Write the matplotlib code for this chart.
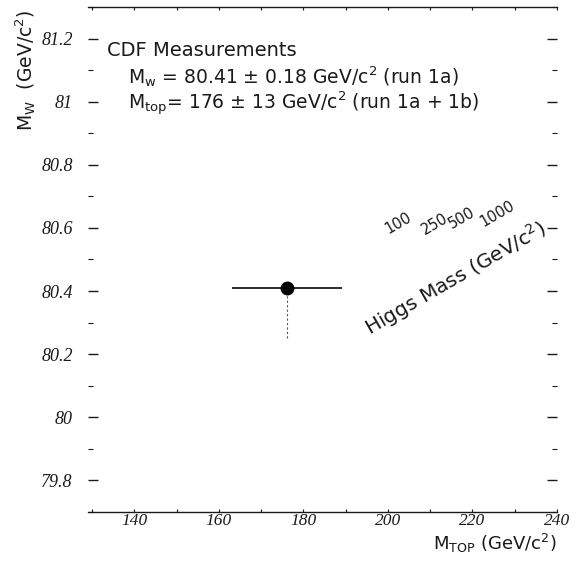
import matplotlib.pyplot as plt
import matplotlib.ticker as ticker
import numpy as np

# Measurement (CDF)
mtop = [176.0]
mtop_err = [13.0]
mw = [80.41]
mw_err_low = [0.16]
mw_err_high = [0.02]

# Higgs mass labels and where they sit on the plot
higgs_labels = ["100", "250", "500", "1000"]
higgs_x = [202.5, 211.0, 217.5, 226.0]
higgs_y = [80.615, 80.612, 80.630, 80.645]

x_ticks = [140, 160, 180, 200, 220, 240]
y_ticks = [79.8, 80.0, 80.2, 80.4, 80.6, 80.8, 81.0, 81.2]
y_ticklabels = ["79.8", "80", "80.2", "80.4", "80.6", "80.8", "81", "81.2"]

ink = "#1a1a1a"
sans = "DejaVu Sans"
serif = "Liberation Serif"

fig = plt.figure(figsize=(5.73, 5.63), dpi=100)
ax = fig.add_axes([88 / 573, 1 - 512 / 563, 469 / 573, 505 / 563])

ax.set_xlim(129, 240)
ax.set_ylim(79.70, 81.30)

# spines: only top and bottom drawn
ax.spines["left"].set_visible(False)
ax.spines["right"].set_visible(False)
for s in ["top", "bottom"]:
    ax.spines[s].set_color(ink)
    ax.spines[s].set_linewidth(1.0)

ax.set_xticks(x_ticks)
ax.set_xticklabels([str(t) for t in x_ticks], fontfamily=serif,
                   fontstyle="italic", fontsize=12.5, color=ink)
ax.xaxis.set_minor_locator(ticker.MultipleLocator(10))
ax.set_yticks(y_ticks)
ax.set_yticklabels(y_ticklabels, fontfamily=serif, fontstyle="italic",
                   fontsize=13, color=ink)
ax.yaxis.set_minor_locator(ticker.MultipleLocator(0.1))

ax.tick_params(axis="x", which="both", direction="in", top=True, bottom=True,
               length=2.5, width=0.8, color=ink, pad=1)
ax.tick_params(axis="y", which="major", direction="in", left=True, right=True,
               length=7, width=1.0, color=ink, pad=11)
ax.tick_params(axis="y", which="minor", direction="in", left=True, right=True,
               length=3.5, width=0.8, color=ink)

# measurement point
ax.errorbar(mtop, mw, xerr=mtop_err, fmt="none", ecolor=ink,
            elinewidth=1.3, capsize=0)
ax.vlines(mtop, np.array(mw) - np.array(mw_err_low),
          np.array(mw) + np.array(mw_err_high),
          colors="#555555", linewidth=0.8, linestyles=(0, (2, 2)))
ax.plot(mtop, mw, "o", color="black", markersize=9)

# legend-like text block
ax.text(0.0405, 0.903, "CDF Measurements", transform=ax.transAxes,
        fontsize=14, fontfamily=sans, color=ink, va="baseline")
ax.text(0.0853, 0.8485,
        r"M$_{\mathregular{w}}$ = 80.41 ± 0.18 GeV/c$^{\mathregular{2}}$ (run 1a)",
        transform=ax.transAxes, fontsize=13.5, fontfamily=sans, color=ink,
        va="baseline")
ax.text(0.0853, 0.797,
        r"M$_{\mathregular{top}}$= 176 ± 13 GeV/c$^{\mathregular{2}}$ (run 1a + 1b)",
        transform=ax.transAxes, fontsize=13.5, fontfamily=sans, color=ink,
        va="baseline")

# Higgs mass annotation
for lab, hx, hy in zip(higgs_labels, higgs_x, higgs_y):
    ax.text(hx, hy, lab, rotation=30, fontsize=10.5, fontfamily=sans,
            color=ink, ha="center", va="center", rotation_mode="anchor")
ax.text(216.0, 80.44, r"Higgs Mass (GeV/c$^{\mathregular{2}}$)", rotation=30,
        fontsize=14.5, fontfamily=sans, color=ink, ha="center", va="center",
        rotation_mode="anchor")

# axis labels
fig.text(26 / 573, 1 - 70 / 563,
         r"M$_{\mathregular{W}}$  (GeV/c$^{\mathregular{2}}$)", rotation=90,
         fontsize=13.5, fontfamily=sans, color=ink, ha="center", va="center")
fig.text(557 / 573, 1 - 543 / 563,
         r"M$_{\mathregular{TOP}}$ (GeV/c$^{\mathregular{2}}$)",
         fontsize=13, fontfamily=sans, color=ink, ha="right", va="center")

fig.savefig("out.png", dpi=100, facecolor="white")
